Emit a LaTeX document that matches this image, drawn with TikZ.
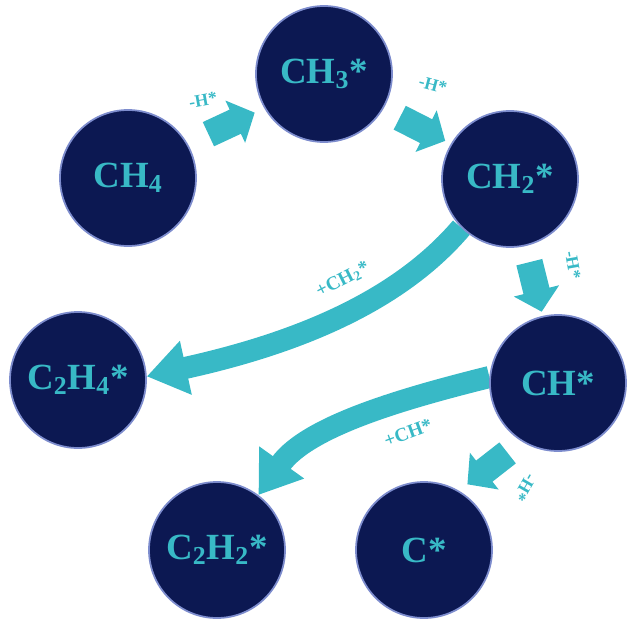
\documentclass[tikz,border=0pt]{standalone}
\usepackage{fontspec}
\setmainfont{Liberation Serif}
\usepackage{tikz}
\usetikzlibrary{shapes.arrows,arrows.meta,calc,backgrounds}
\definecolor{navy}{RGB}{12,24,82}
\definecolor{rim}{RGB}{125,140,205}
\definecolor{arrowcyan}{RGB}{56,185,198}

\begin{document}
\begin{tikzpicture}[
    species/.style={circle, fill=navy, draw=rim, line width=1pt, minimum size=2.72cm, inner sep=0pt, text=arrowcyan, font=\fontsize{21}{25}\selectfont\bfseries},
    hstep/.style={single arrow, fill=arrowcyan, inner xsep=0pt, inner ysep=0.26cm, minimum height=1.02cm, single arrow head extend=0.2cm, single arrow tip angle=95},
    hlabel/.style={text=arrowcyan, font=\fontsize{10}{11}\selectfont\bfseries},
    couple/.style={draw=arrowcyan, line width=0.44cm, -{Triangle[length=0.8cm,width=1.05cm]}},
    clabel/.style={text=arrowcyan, font=\fontsize{11}{12}\selectfont\bfseries}
]
    \useasboundingbox (0,0) rectangle (12.62,12.4);

    \node[species] (ch4) at (2.56,8.84) {CH\textsubscript{4}};
    \node[species] (ch3) at (6.48,10.92) {CH\textsubscript{3}*};
    \node[species] (ch2) at (10.20,8.82) {CH\textsubscript{2}*};
    \node[species] (c2h4) at (1.56,4.80) {C\textsubscript{2}H\textsubscript{4}*};
    \node[species] (ch) at (11.16,4.74) {CH*};
    \node[species] (c2h2) at (4.34,1.40) {C\textsubscript{2}H\textsubscript{2}*};
    \node[species] (c) at (8.48,1.40) {C*};

    % dehydrogenation steps
    \node[hstep, rotate=25] (s1) at ($(ch4)!0.5!(ch3)$) {};
    \node[hstep, rotate=-27] (s2) at ($(ch3)!0.5!(ch2)$) {};
    \node[hstep, rotate=-76] (s3) at ($(ch2)!0.5!(ch)$) {};
    \node[hstep, rotate=-142] (s4) at ($(ch)!0.49!(c)$) {};

    \node[hlabel, rotate=10] (l1) at (4.06,10.40) {-H*};
    \node[hlabel, rotate=-15] (l2) at (8.66,10.70) {-H*};
    \node[hlabel, rotate=-80] (l3) at (11.46,7.10) {-H*};
    \node[hlabel, rotate=-120] (l4) at (10.50,2.64) {-H*};

    % coupling
    \begin{scope}[on background layer]
        \draw[couple] (ch2.225) .. controls +(-1.26,-1.48) and +(3.0,0.66) .. (c2h4.3);
        \draw[couple] (ch.175) .. controls +(-1.6,-0.4) and +(1.0,1.4) .. (c2h2.53);
    \end{scope}
    \node[clabel, rotate=27] (l5) at (6.86,6.80) {+CH\textsubscript{2}*};
    \node[clabel, rotate=20] (l6) at (8.16,3.74) {+CH*};
\end{tikzpicture}
\end{document}
